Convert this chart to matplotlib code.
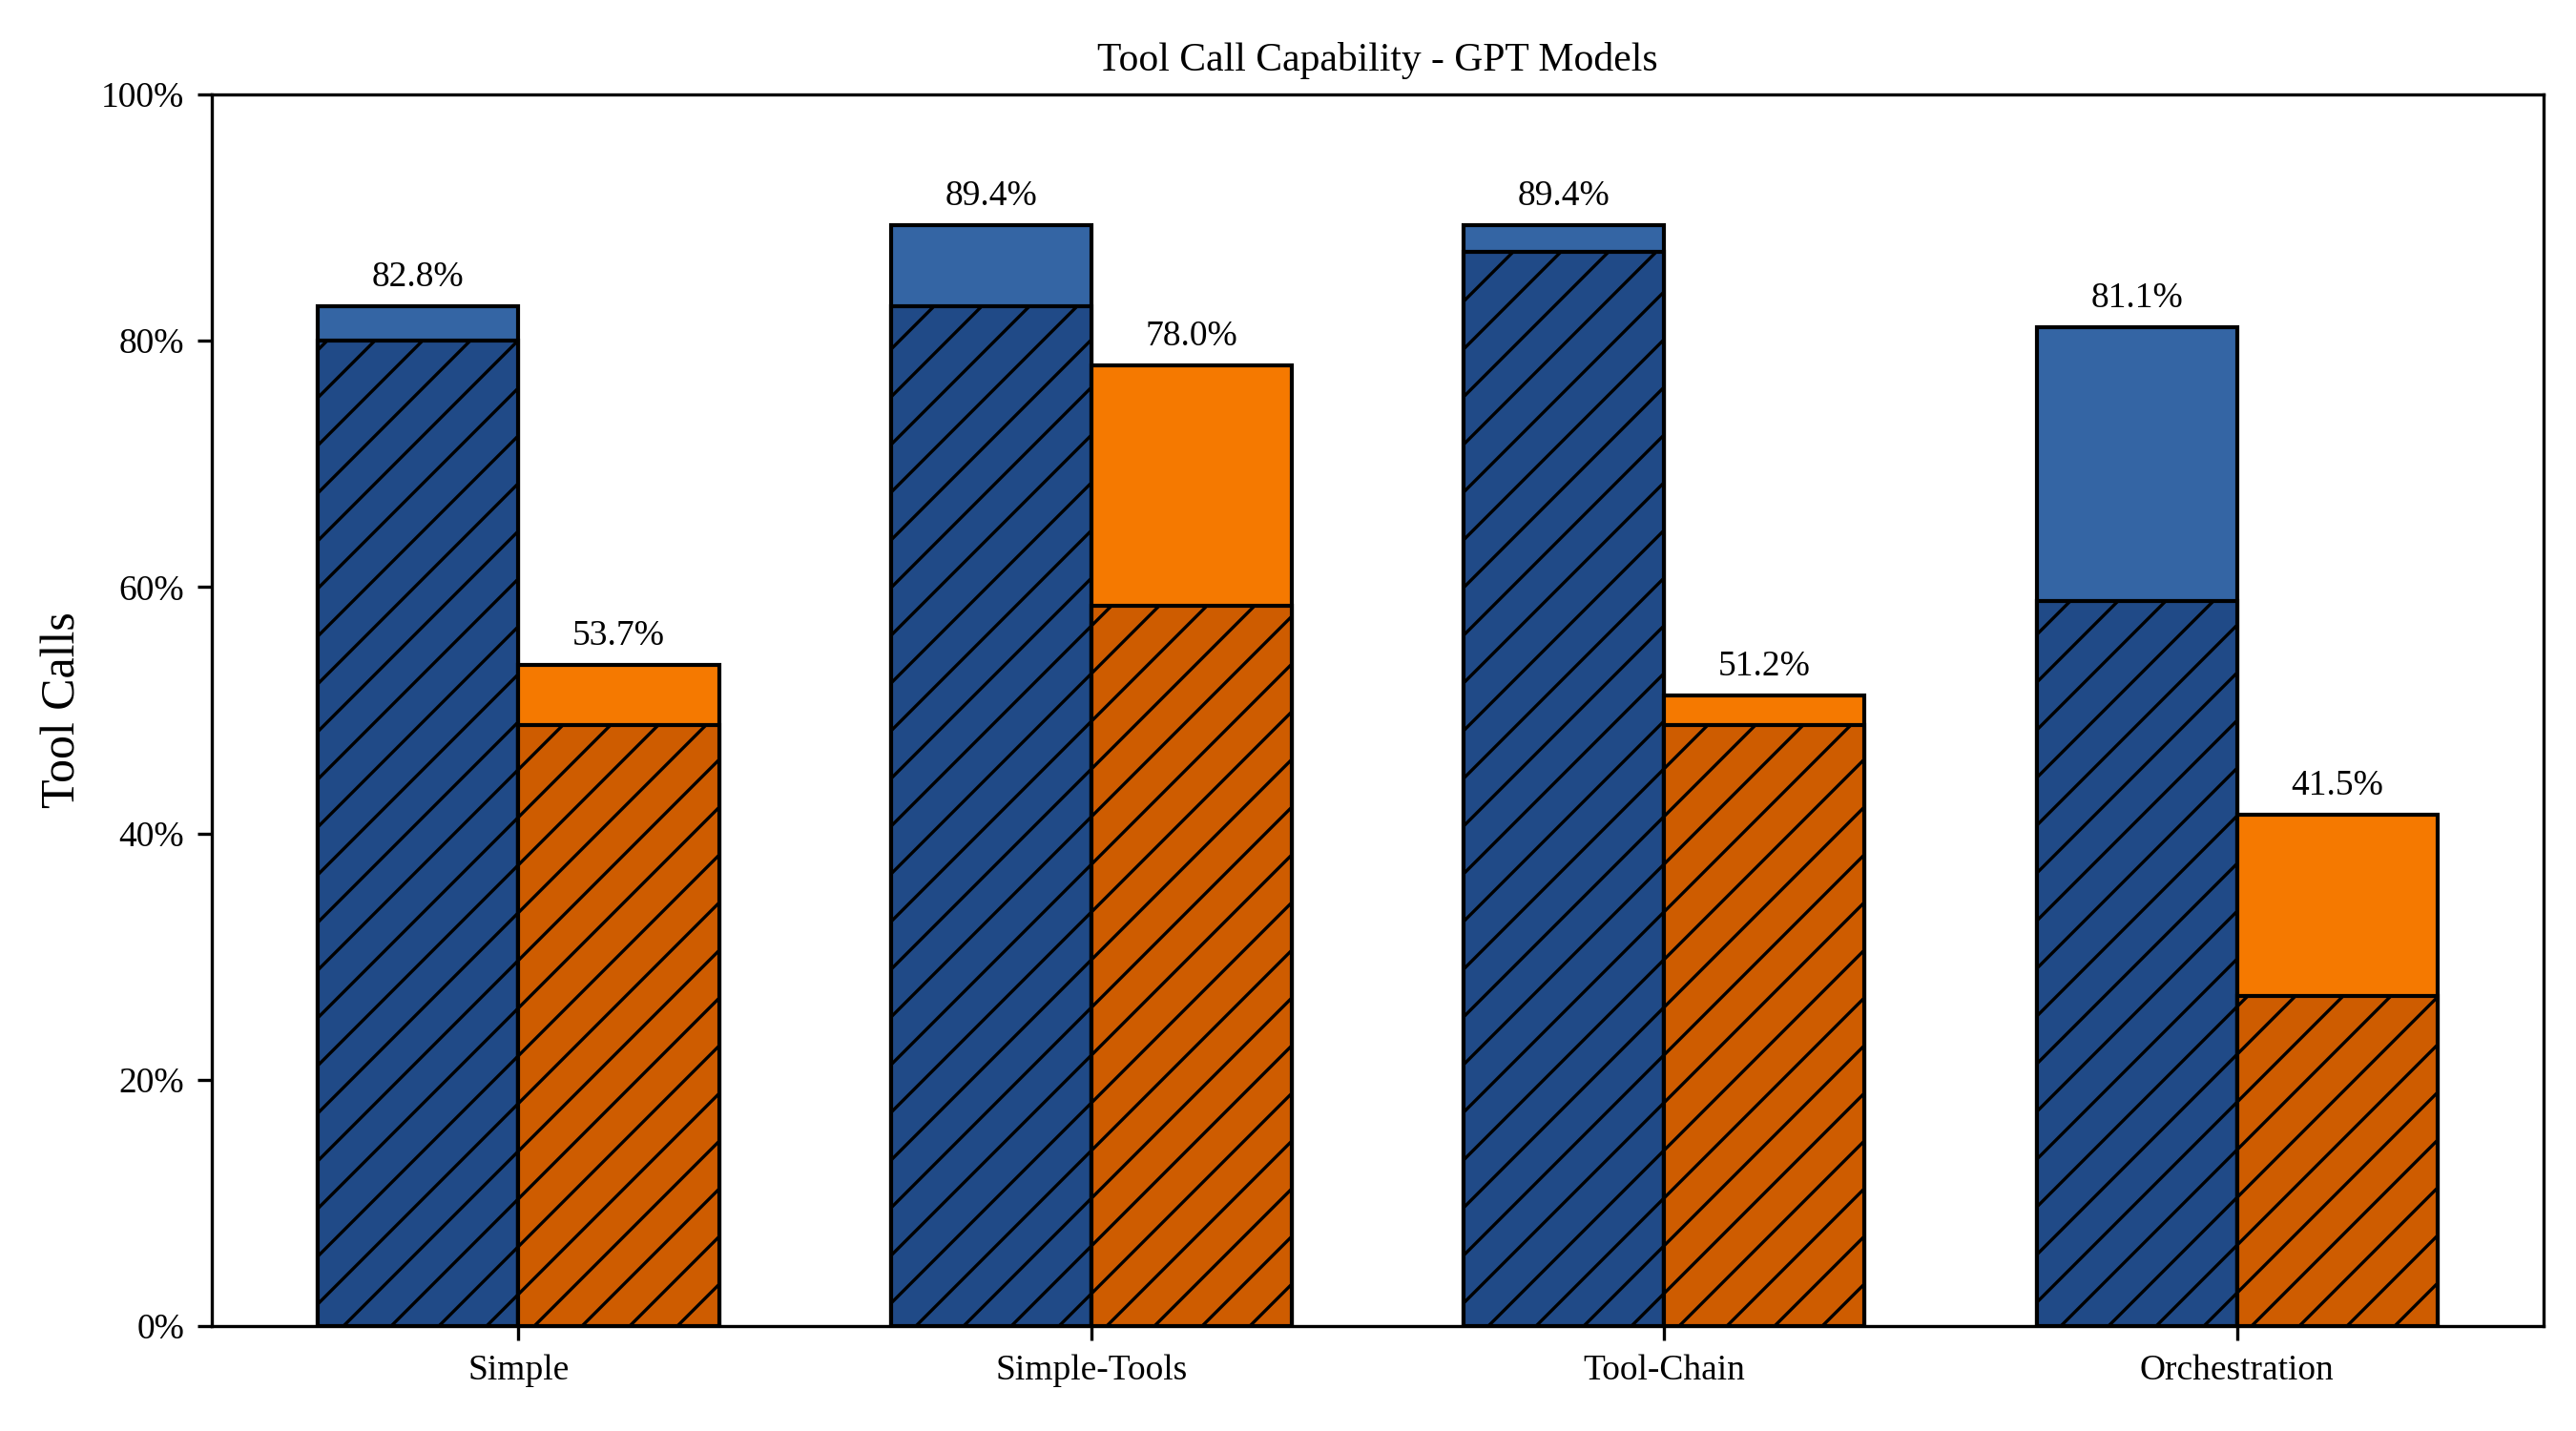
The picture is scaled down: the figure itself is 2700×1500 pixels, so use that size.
import matplotlib
matplotlib.use("Agg")
import matplotlib.pyplot as plt
import numpy as np
from matplotlib.ticker import FuncFormatter

plt.rcParams['font.family'] = ['Liberation Serif', 'DejaVu Serif']
plt.rcParams['hatch.linewidth'] = 0.8

categories = ["Simple", "Simple-Tools", "Tool-Chain", "Orchestration"]
blue_total = [82.8, 89.4, 89.4, 81.1]
blue_hatched = [80.0, 82.8, 87.2, 58.9]
orange_total = [53.7, 78.0, 51.2, 41.5]
orange_hatched = [48.8, 58.5, 48.8, 26.8]
title = "Tool Call Capability - GPT Models"
ylabel = "Tool Calls"

c_blue_light = "#3465a4"
c_blue_dark = "#204a87"
c_orange_light = "#f57900"
c_orange_dark = "#ce5c00"

fig, ax = plt.subplots(figsize=(9, 5), dpi=300)
fig.subplots_adjust(left=0.0823, right=0.9874, top=0.934, bottom=0.0733)

x = np.arange(len(categories))
w = 0.35
lw = 1.0

ax.bar(x - w / 2, blue_total, w, color=c_blue_light, edgecolor="black", linewidth=lw)
ax.bar(x - w / 2, blue_hatched, w, color=c_blue_dark, edgecolor="black", linewidth=lw, hatch="//")
ax.bar(x + w / 2, orange_total, w, color=c_orange_light, edgecolor="black", linewidth=lw)
ax.bar(x + w / 2, orange_hatched, w, color=c_orange_dark, edgecolor="black", linewidth=lw, hatch="//")

for xi, v in zip(x - w / 2, blue_total):
    ax.text(xi, v + 1, f"{v:.1f}%", ha="center", va="bottom", fontsize=9)
for xi, v in zip(x + w / 2, orange_total):
    ax.text(xi, v + 1, f"{v:.1f}%", ha="center", va="bottom", fontsize=9)

ax.set_ylim(0, 100)
ax.set_yticks(np.arange(0, 101, 20))
ax.yaxis.set_major_formatter(FuncFormatter(lambda v, p: f"{int(round(v))}%"))
ax.set_xticks(x)
ax.set_xticklabels(categories)
ax.tick_params(axis="both", labelsize=9)
ax.set_ylabel(ylabel, fontsize=12)
ax.set_title(title, fontsize=10)

fig.savefig("out.png", dpi=300)
